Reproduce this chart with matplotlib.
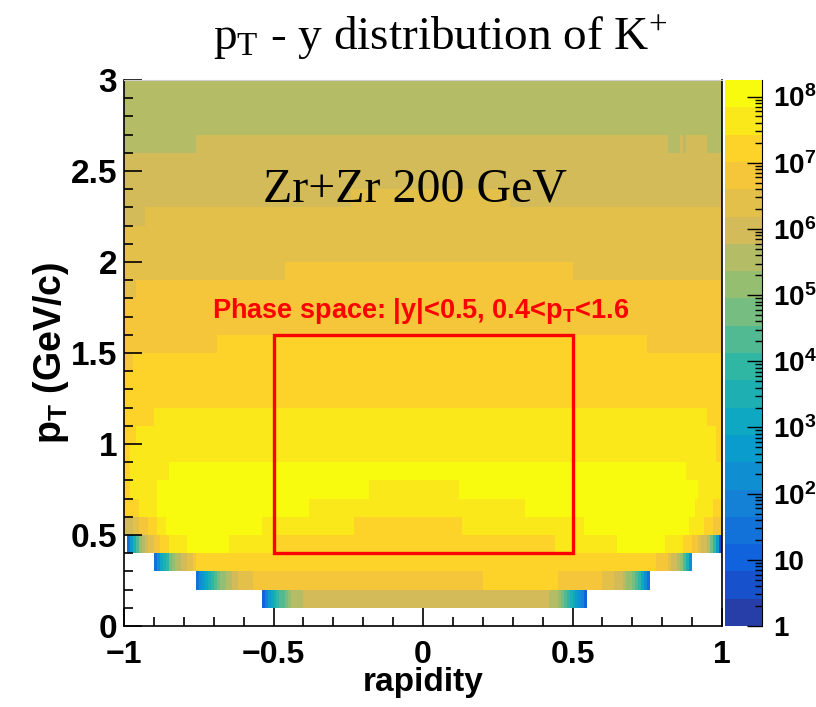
import numpy as np
import matplotlib
matplotlib.use('Agg')
import matplotlib.pyplot as plt
from matplotlib.colors import LinearSegmentedColormap, ListedColormap, BoundaryNorm
from matplotlib.patches import Rectangle
from matplotlib.ticker import MultipleLocator, LogLocator, NullFormatter, FixedLocator, FixedFormatter

plt.rcParams['font.family'] = ['Liberation Sans', 'DejaVu Sans']

# %% binning: rapidity in 0.01 steps, pT in 0.1 GeV/c steps
y_edges = np.linspace(-1, 1, 201)
pt_edges = np.linspace(0, 3, 31)

# %% histogram content as log10(counts)
# one entry per pT row (0.0-0.1 first): rapidity breakpoints and the value between them
row_breaks = [
    [],                                                        # 0.0-0.1 empty
    [-0.43, -0.40, 0.42, 0.45],                                # 0.1-0.2
    [-0.62, -0.57, 0.20, 0.45, 0.60, 0.64, 0.67],              # 0.2-0.3
    [-0.77, -0.76, 0.78, 0.82],                                # 0.3-0.4
    [-0.88, -0.85, -0.79, -0.65, -0.50, 0.44, 0.65, 0.81, 0.87, 0.90],  # 0.4-0.5
    [-1, -0.97, -0.95, -0.92, -0.89, -0.86, -0.54, -0.23, 0.13, 0.54, 0.89, 0.94, 0.97, 1],
    [-1, -0.95, -0.89, -0.38, 0.34, 0.91, 0.97, 1],
    [-1, -0.98, -0.89, -0.18, 0.12, 0.92, 1],
    [-1, -0.98, -0.85, 0.885, 1],
    [-1, -0.975, 0.985, 1],
    [-1, -0.96, 0.98, 1],                                      # 1.0-1.1
    [-1, -0.90, 0.955, 1],
    [-1, 1],
    [-1, 1],
    [-1, -0.965, 1],
    [-1, -0.69, 0.755, 1],                                     # 1.5-1.6
    [-1, 1],
    [-1, 1],
    [-1, -0.96, 1],
    [-1, -0.455, 0.505, 1],
    [-1, 1],                                                   # 2.0-2.1
    [-1, 1],
    [-1, -0.93, 1],
    [-1, -0.235, 0.295, 1],
    [-1, 1],
    [-1, 1],                                                   # 2.5-2.6
    [-1, -0.76, 0.825, 0.865, 0.875, 0.885, 0.955, 1],
    [-1, 1],
    [-1, 1],
    [-1, 1],
]
row_logz = [
    [],
    [5.6, 6.0, 5.6],
    [6.4, 6.8, 7.2, 6.8, 6.4, 6.0],
    [6.8, 7.2, 6.8],
    [7.2, 7.6, 8.0, 7.6, 7.2, 7.6, 8.0, 7.6, 7.2],
    [6.0, 6.4, 6.8, 7.2, 7.6, 8.0, 7.6, 7.2, 7.6, 8.0, 7.6, 7.2, 6.8],
    [7.2, 7.6, 8.0, 7.6, 8.0, 7.6, 7.2],
    [7.2, 7.6, 8.0, 7.6, 8.0, 7.6],
    [7.2, 7.6, 8.0, 7.6],
    [7.2, 7.6, 7.2],
    [7.2, 7.6, 7.2],
    [7.2, 7.6, 7.2],
    [7.2],
    [7.2],
    [6.8, 7.2],
    [6.8, 7.2, 6.8],
    [6.8],
    [6.8],
    [6.4, 6.8],
    [6.4, 6.8, 6.4],
    [6.4],
    [6.4],
    [6.0, 6.4],
    [6.0, 6.4, 6.0],
    [6.0],
    [6.0],
    [5.6, 6.0, 5.6, 6.0, 5.6, 6.0, 5.6],
    [5.6],
    [5.6],
    [5.6],
]

# falling edges at the acceptance limit, one value per 0.01 bin
# left: outer -> inner (ends at the first breakpoint), right: inner -> outer
ramp_left = {
    1: [1.0, 2.0, 2.7, 3.1, 3.5, 3.9, 4.3, 4.5, 4.7, 5.2, 5.6],
    2: [1.4, 2.3, 2.7, 3.1, 3.5, 3.9, 4.3, 4.7, 5.2, 5.2, 5.6, 5.6, 6.0, 6.0],
    3: [1.4, 2.3, 3.1, 3.5, 3.9, 4.7, 5.2, 5.6, 5.6, 6.0, 6.0, 6.4, 6.4],
    4: [1.4, 2.7, 3.5, 4.3, 5.2, 5.6, 6.0, 6.4, 6.4, 6.8, 6.8],
}
ramp_right = {
    1: [5.2, 4.7, 4.3, 3.9, 3.5, 3.1, 2.7, 2.3, 1.9, 1.0],
    2: [5.6, 5.2, 5.2, 4.7, 4.3, 3.9, 3.1, 2.3, 1.4],
    3: [6.4, 6.0, 6.0, 5.6, 5.2, 4.3, 3.5, 2.3],
    4: [6.8, 6.8, 6.4, 6.0, 6.0, 5.6, 4.7, 3.9, 2.7, 0.6],
}

# %% fill the 2D histogram
yc = 0.5 * (y_edges[:-1] + y_edges[1:])
logz = np.full((len(pt_edges) - 1, len(y_edges) - 1), np.nan)
for i, (br, vals) in enumerate(zip(row_breaks, row_logz)):
    if len(vals):
        seg = np.searchsorted(br, yc, side='right') - 1
        inside = (yc > br[0] - 1e-9) & (yc < br[-1] + 1e-9)
        seg = np.clip(seg, 0, len(vals) - 1)
        logz[i, inside] = np.asarray(vals)[seg[inside]]
    if i in ramp_left:
        j0 = int(round((br[0] + 1) / 0.01)) - len(ramp_left[i])
        logz[i, j0:j0 + len(ramp_left[i])] = ramp_left[i]
    if i in ramp_right:
        j1 = int(round((br[-1] + 1) / 0.01))
        logz[i, j1:j1 + len(ramp_right[i])] = ramp_right[i]
counts = np.ma.masked_invalid(10 ** logz)

# %% ROOT kBird palette with 20 contour levels
bird_stops = [0.0, 0.125, 0.25, 0.375, 0.5, 0.625, 0.75, 0.875, 1.0]
bird_r = [0.2082, 0.0592, 0.0780, 0.0232, 0.1802, 0.5301, 0.8186, 0.9956, 0.9764]
bird_g = [0.1664, 0.3599, 0.5041, 0.6419, 0.7178, 0.7492, 0.7328, 0.7862, 0.9832]
bird_b = [0.5293, 0.8684, 0.8385, 0.7914, 0.6425, 0.4662, 0.3499, 0.1968, 0.0539]
bird = LinearSegmentedColormap.from_list('bird', list(zip(bird_stops, zip(bird_r, bird_g, bird_b))))
n_cont = 20
z_max_log = 8.25
levels = np.logspace(0, z_max_log, n_cont + 1)
cmap = ListedColormap([bird((k + 1) / n_cont) for k in range(n_cont)])
norm = BoundaryNorm(levels, n_cont)

# %% plot
fig = plt.figure(figsize=(8.16, 7.07), dpi=100)
W, H = 816, 707
ax = fig.add_axes([124 / W, 1 - 626 / H, 598 / W, 546 / H])
ax.pcolormesh(y_edges, pt_edges, counts, cmap=cmap, norm=norm, shading='flat',
              edgecolors='none', antialiased=False)
ax.set_xlim(-1, 1)
ax.set_ylim(0, 3)

ax.xaxis.set_major_locator(MultipleLocator(0.5))
ax.xaxis.set_minor_locator(MultipleLocator(0.1))
ax.yaxis.set_major_locator(MultipleLocator(0.5))
ax.yaxis.set_minor_locator(MultipleLocator(0.1))
ax.xaxis.set_major_formatter(lambda v, p: ('%g' % v).replace('-', '\u2212'))
ax.yaxis.set_major_formatter(lambda v, p: '%g' % v)
ax.tick_params(which='both', direction='in', top=False, right=False, width=1.2)
ax.tick_params(which='major', length=13)
ax.tick_params(axis='x', which='major', pad=10, labelsize=23)
ax.tick_params(axis='y', which='major', pad=5, labelsize=24)
ax.tick_params(which='minor', length=6.5)
for lab in ax.get_xticklabels() + ax.get_yticklabels():
    lab.set_fontweight('bold')
ax.spines['top'].set_color('#d0d0d0')
for s in ['left', 'bottom', 'right']:
    ax.spines[s].set_linewidth(1.2)

ax.set_xlabel('rapidity', fontsize=24, fontweight='bold', labelpad=-2)
ax.set_ylabel(r'$\mathregular{p_T}$ (GeV/c)', fontsize=27, fontweight='bold', labelpad=0)

# phase space box
ax.add_patch(Rectangle((-0.5, 0.4), 1.0, 1.2, fill=False, ec='red', lw=2.4, zorder=5))
ax.text(-0.707, 1.694, r'Phase space: |y|<0.5, 0.4<$\mathregular{p_T}$<1.6', color='red',
        fontsize=19.5, fontweight='bold', va='baseline', ha='left')
ax.text(-0.535, 2.33, 'Zr+Zr 200 GeV', family='Liberation Serif', fontsize=34.5,
        va='baseline', ha='left')

fig.text(440 / W, 1 - 50 / H, r'$\mathregular{p_T}$ - y distribution of $\mathregular{K^{+}}$',
         family='Liberation Serif', fontsize=34, ha='center', va='baseline')

# %% colour scale
cax = fig.add_axes([725 / W, 1 - 626 / H, 37 / W, 546 / H])
cax.pcolormesh([0, 1], levels, levels[:-1].reshape(-1, 1), cmap=cmap, norm=norm,
               edgecolors='none', antialiased=False)
cax.set_yscale('log')
cax.set_ylim(1, 10 ** z_max_log)
cax.set_xlim(0, 1)
cax.set_xticks([])
cax.yaxis.tick_right()
cax.yaxis.set_major_locator(FixedLocator([10 ** k for k in range(9)]))
cb_labels = ['1', '10'] + [r'$\mathregular{10^{%d}}$' % k for k in range(2, 9)]
cax.yaxis.set_major_formatter(FixedFormatter(cb_labels))
cax.yaxis.set_minor_locator(LogLocator(base=10, subs=np.arange(2, 10), numticks=20))
cax.yaxis.set_minor_formatter(NullFormatter())
cax.tick_params(which='both', direction='in', left=False, right=True, width=1)
cax.tick_params(which='major', length=11, labelsize=20, pad=8)
cax.tick_params(which='minor', length=5)
for lab in cax.get_yticklabels():
    lab.set_fontweight('bold')
for s in ['left', 'top', 'bottom']:
    cax.spines[s].set_visible(False)

fig.savefig('out.png', dpi=100)
